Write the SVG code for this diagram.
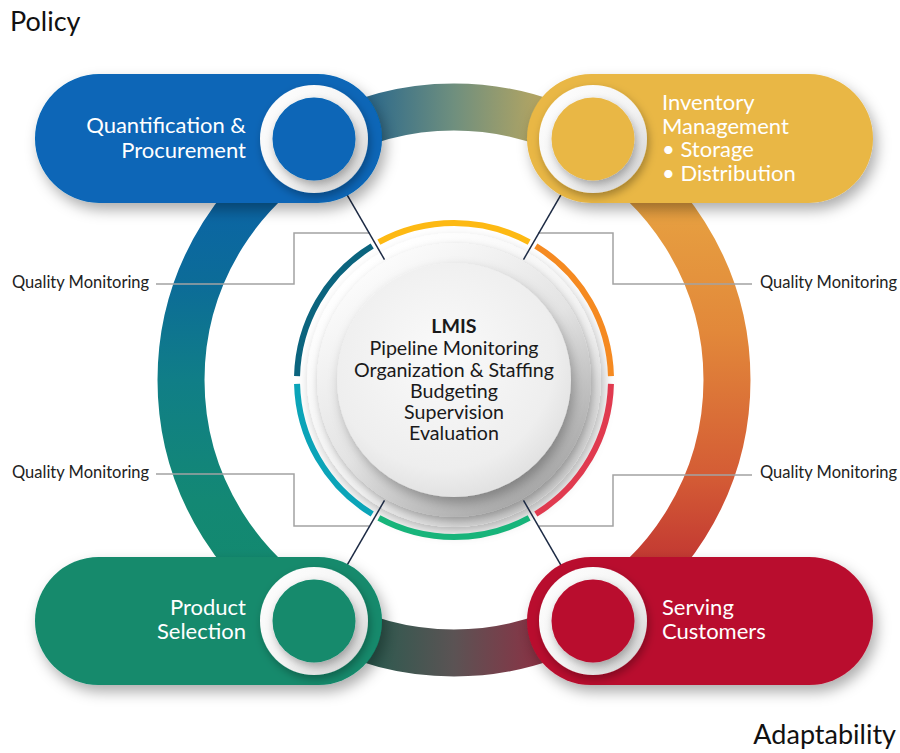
<svg xmlns="http://www.w3.org/2000/svg" width="900" height="753" viewBox="0 0 900 753">
<defs>
<style>
text{font-family:Lato,"Open Sans","DejaVu Sans",sans-serif;}
.pt{fill:#ffffff;font-size:22px;}
.ct{fill:#1a1a1a;font-size:19.6px;text-anchor:middle;}
.qm{fill:#222;font-size:16.5px;}
.big{fill:#111;font-size:27px;}
.call{fill:none;stroke:#a3a3a3;stroke-width:1.5;}
.nav{fill:none;stroke:#1c2a44;stroke-width:1.5;}
.ringarc{fill:none;stroke-width:47;}
.seg{fill:none;stroke-width:6;}
.wring{fill:url(#wr);}
</style>
<linearGradient id="gTop" gradientUnits="userSpaceOnUse" x1="317" y1="0" x2="591" y2="0">
<stop offset="0" stop-color="#1a5f9f"/><stop offset="0.2" stop-color="#2f6b8b"/><stop offset="0.5" stop-color="#6f8f7e"/><stop offset="0.8" stop-color="#b1a463"/><stop offset="1" stop-color="#ddb04c"/>
</linearGradient>
<linearGradient id="gBottom" gradientUnits="userSpaceOnUse" x1="317" y1="0" x2="591" y2="0">
<stop offset="0" stop-color="#15634f"/><stop offset="0.2" stop-color="#2c5a4f"/><stop offset="0.5" stop-color="#5b5354"/><stop offset="0.8" stop-color="#893345"/><stop offset="1" stop-color="#a51f37"/>
</linearGradient>
<linearGradient id="gLeft" gradientUnits="userSpaceOnUse" x1="0" y1="140" x2="0" y2="620">
<stop offset="0" stop-color="#0a5fae"/><stop offset="0.3" stop-color="#0c6c98"/><stop offset="0.5" stop-color="#107e87"/><stop offset="0.75" stop-color="#138874"/><stop offset="1" stop-color="#128a6b"/>
</linearGradient>
<linearGradient id="gRight" gradientUnits="userSpaceOnUse" x1="0" y1="140" x2="0" y2="620">
<stop offset="0" stop-color="#e9ad44"/><stop offset="0.4" stop-color="#e2883a"/><stop offset="0.7" stop-color="#d45c35"/><stop offset="1" stop-color="#b61f30"/>
</linearGradient>
<linearGradient id="wr" x1="0" y1="0" x2="1" y2="1">
<stop offset="0" stop-color="#ffffff"/><stop offset="0.55" stop-color="#f4f4f4"/><stop offset="1" stop-color="#cfcfcf"/>
</linearGradient>
<linearGradient id="dA" x1="0.2" y1="0.1" x2="0.8" y2="0.95">
<stop offset="0" stop-color="#ffffff"/><stop offset="0.6" stop-color="#f1f1f1"/><stop offset="1" stop-color="#c8c8c8"/>
</linearGradient>
<linearGradient id="dB" x1="0.2" y1="0.1" x2="0.8" y2="0.95">
<stop offset="0" stop-color="#fbfbfb"/><stop offset="0.5" stop-color="#e3e3e3"/><stop offset="1" stop-color="#a4a4a4"/>
</linearGradient>
<radialGradient id="dC" cx="0.45" cy="0.4" r="0.6">
<stop offset="0" stop-color="#fafafa"/><stop offset="0.8" stop-color="#eeeeee"/><stop offset="1" stop-color="#e2e2e2"/>
</radialGradient>
<filter id="sh" x="-20%" y="-30%" width="150%" height="170%">
<feDropShadow dx="4" dy="7" stdDeviation="7" flood-color="#000" flood-opacity="0.32"/>
</filter>
<filter id="sh2" x="-30%" y="-30%" width="160%" height="160%">
<feDropShadow dx="2" dy="4" stdDeviation="4" flood-color="#000" flood-opacity="0.3"/>
</filter>
<filter id="sh3" x="-30%" y="-30%" width="160%" height="160%">
<feDropShadow dx="3" dy="6" stdDeviation="6" flood-color="#000" flood-opacity="0.28"/>
</filter>
</defs>
<rect width="900" height="753" fill="#ffffff"/>

<g id="ring">
<path class="ringarc" stroke="url(#gTop)" d="M317.5,143.58 A273,273 0 0 1 590.5,143.58"/>
<path class="ringarc" stroke="url(#gRight)" d="M590.5,143.58 A273,273 0 0 1 590.5,616.42"/>
<path class="ringarc" stroke="url(#gBottom)" d="M590.5,616.42 A273,273 0 0 1 317.5,616.42"/>
<path class="ringarc" stroke="url(#gLeft)" d="M317.5,616.42 A273,273 0 0 1 317.5,143.58"/>
</g>

<g id="hub">
<circle cx="454" cy="380" r="147" fill="url(#dA)" filter="url(#sh3)"/>
<circle cx="454" cy="380" r="137" fill="url(#dB)" filter="url(#sh2)"/>
<circle cx="454" cy="380" r="117" fill="url(#dC)" filter="url(#sh3)"/>
<path class="seg" stroke="#f58a21" d="M535.80,245.99 A157,157 0 0 1 610.95,376.16"/>
<path class="seg" stroke="#e03a4f" d="M610.95,383.84 A157,157 0 0 1 535.80,514.01"/>
<path class="seg" stroke="#17b47a" d="M529.15,517.85 A157,157 0 0 1 378.85,517.85"/>
<path class="seg" stroke="#0ba4b8" d="M372.20,514.01 A157,157 0 0 1 297.05,383.84"/>
<path class="seg" stroke="#0b647e" d="M297.05,376.16 A157,157 0 0 1 372.20,245.99"/>
<path class="seg" stroke="#fdb913" d="M378.85,242.15 A157,157 0 0 1 529.15,242.15"/>
<text class="ct" x="454" y="333" font-weight="bold">LMIS</text>
<text class="ct" x="454" y="355">Pipeline Monitoring</text>
<text class="ct" x="454" y="377">Organization &amp; Staffing</text>
<text class="ct" x="454" y="398">Budgeting</text>
<text class="ct" x="454" y="419">Supervision</text>
<text class="ct" x="454" y="440">Evaluation</text>
</g>

<g id="connectors">
<path class="call" d="M156,284 H294 V233 H370"/>
<path class="call" d="M752,284 H613 V233 H538"/>
<path class="call" d="M156,474 H294 V526 H369"/>
<path class="call" d="M752,475 H613 V526 H539"/>
<line class="nav" x1="339" y1="180.8" x2="384.5" y2="259.6"/>
<line class="nav" x1="569" y1="180.8" x2="523.5" y2="259.6"/>
<line class="nav" x1="339" y1="579.2" x2="384.5" y2="500.4"/>
<line class="nav" x1="569" y1="579.2" x2="523.5" y2="500.4"/>
</g>

<g id="node-quantification">
<rect x="35" y="74" width="347" height="129" rx="64.5" fill="#0766b7" filter="url(#sh)"/>
<circle cx="314" cy="139" r="54" class="wring" filter="url(#sh2)"/>
<circle cx="314" cy="139" r="41.5" fill="#0766b7" filter="url(#sh2)"/>
<text class="pt" x="246" y="133" text-anchor="end">Quantification &amp;</text>
<text class="pt" x="246" y="158" text-anchor="end">Procurement</text>
</g>

<g id="node-inventory">
<rect x="527" y="74" width="346" height="129" rx="64.5" fill="#e9b744" filter="url(#sh)"/>
<circle cx="593" cy="139" r="54" class="wring" filter="url(#sh2)"/>
<circle cx="593" cy="139" r="41.5" fill="#e9b744" filter="url(#sh2)"/>
<text class="pt" x="662" y="110">Inventory</text>
<text class="pt" x="662" y="133.5">Management</text>
<text class="pt" x="662" y="157">• Storage</text>
<text class="pt" x="662" y="180.5">• Distribution</text>
</g>

<g id="node-product">
<rect x="35" y="557" width="347" height="128" rx="64" fill="#128a6c" filter="url(#sh)"/>
<circle cx="314" cy="621" r="54" class="wring" filter="url(#sh2)"/>
<circle cx="314" cy="621" r="41.5" fill="#128a6c" filter="url(#sh2)"/>
<text class="pt" x="246" y="615" text-anchor="end">Product</text>
<text class="pt" x="246" y="639" text-anchor="end">Selection</text>
</g>

<g id="node-serving">
<rect x="527" y="557" width="346" height="128" rx="64" fill="#b90d2e" filter="url(#sh)"/>
<circle cx="593" cy="621" r="54" class="wring" filter="url(#sh2)"/>
<circle cx="593" cy="621" r="41.5" fill="#b90d2e" filter="url(#sh2)"/>
<text class="pt" x="662" y="615">Serving</text>
<text class="pt" x="662" y="639">Customers</text>
</g>

<g id="labels">
<text class="qm" x="12" y="288">Quality Monitoring</text>
<text class="qm" x="760" y="288">Quality Monitoring</text>
<text class="qm" x="12" y="478">Quality Monitoring</text>
<text class="qm" x="760" y="478">Quality Monitoring</text>
<text class="big" x="10" y="31">Policy</text>
<text class="big" x="896" y="744" text-anchor="end">Adaptability</text>
</g>
</svg>
